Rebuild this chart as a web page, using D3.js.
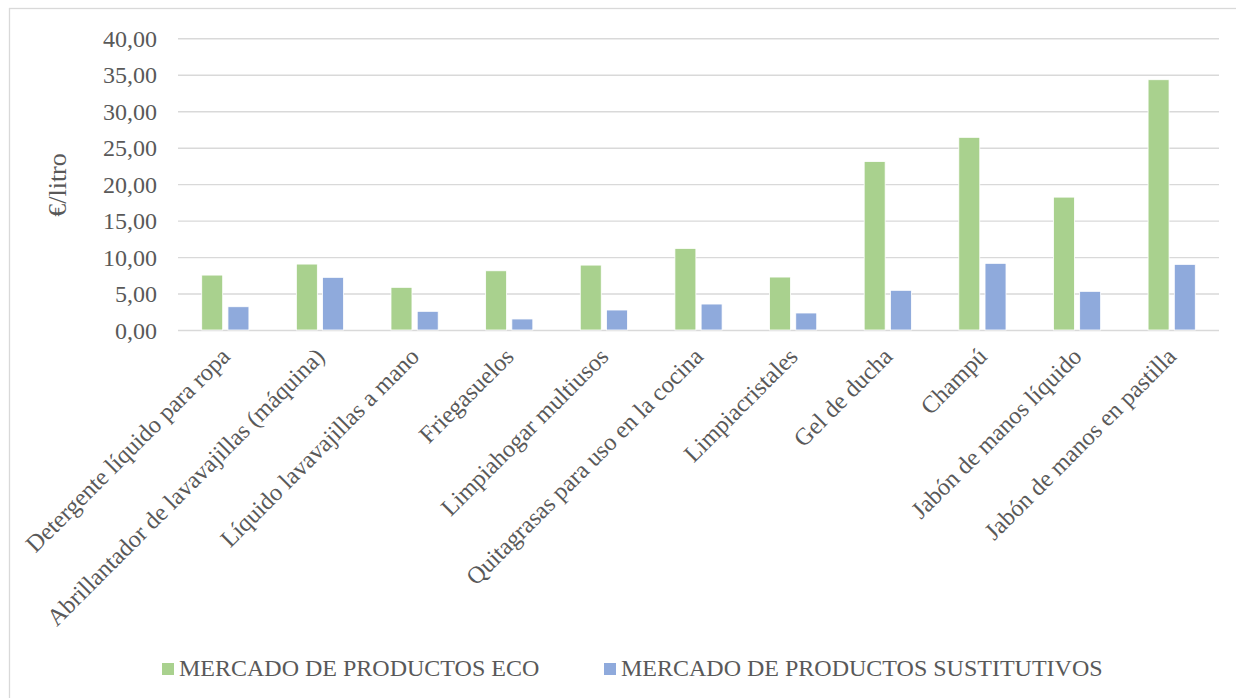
<!DOCTYPE html>
<html>
<head>
<meta charset="utf-8">
<script src="https://cdn.jsdelivr.net/npm/d3@7"></script>
<style>
  html, body { margin: 0; padding: 0; background: #fff; }
  svg { display: block; }
  text { font-family: "Liberation Serif", "Times New Roman", serif; fill: #595959; }
</style>
</head>
<body>
<svg id="chart" width="1236" height="698"></svg>
<script>
// Precio medio por litro: productos ecológicos frente a sustitutivos
const categories = [
  "Detergente líquido para ropa",
  "Abrillantador de lavavajillas (máquina)",
  "Líquido lavavajillas a mano",
  "Friegasuelos",
  "Limpiahogar multiusos",
  "Quitagrasas para uso en la cocina",
  "Limpiacristales",
  "Gel de ducha",
  "Champú",
  "Jabón de manos líquido",
  "Jabón de manos en pastilla"
];
const seriesNames = ["MERCADO DE PRODUCTOS ECO", "MERCADO DE PRODUCTOS SUSTITUTIVOS"];
const ecoValues = [7.53, 9.04, 5.85, 8.12, 8.90, 11.19, 7.26, 23.10, 26.42, 18.22, 34.32];
const sustitutivosValues = [3.19, 7.22, 2.56, 1.51, 2.74, 3.56, 2.33, 5.44, 9.14, 5.30, 9.00];
const yTicks = [0, 5, 10, 15, 20, 25, 30, 35, 40];
const colors = ["#a9d18e", "#8faadc"];

const svg = d3.select("#chart");
const W = 1236, H = 698;

// outer chart frame
svg.append("rect")
  .attr("x", 9.5).attr("y", 8.5)
  .attr("width", W + 20).attr("height", H + 20)
  .attr("fill", "#fff").attr("stroke", "#d9d9d9").attr("stroke-width", 1.3);

const plot = { left: 178, right: 1219, top: 38.3, bottom: 330 };

const x0 = d3.scaleBand().domain(categories).range([plot.left, plot.right]).padding(0);
const groupHalf = 23.6;
const x1 = d3.scaleBand().domain(seriesNames)
  .range([x0.bandwidth() / 2 - groupHalf, x0.bandwidth() / 2 + groupHalf])
  .paddingInner(0.2);
const y = d3.scaleLinear().domain([0, 40]).range([plot.bottom, plot.top]);

const fmt = v => d3.format(".2f")(v).replace(".", ",");

// horizontal gridlines
svg.append("g")
  .attr("transform", `translate(${plot.left},0)`)
  .call(d3.axisLeft(y).tickValues(yTicks).tickSize(-(plot.right - plot.left)).tickFormat(""))
  .call(g => g.select(".domain").remove())
  .call(g => g.selectAll("line").attr("stroke", "#d9d9d9").attr("stroke-width", 1.4));

// y tick labels
svg.append("g")
  .attr("transform", `translate(${plot.left - 21},0)`)
  .call(d3.axisLeft(y).tickValues(yTicks).tickSize(0).tickPadding(0).tickFormat(fmt))
  .call(g => g.select(".domain").remove())
  .call(g => g.selectAll("text")
    .attr("font-family", "Liberation Serif")
    .attr("font-size", 24)
    .attr("fill", "#595959")
    .attr("dy", "0.34em"));

// bars
const rows = categories.map((c, i) => ({ cat: c, vals: [ecoValues[i], sustitutivosValues[i]] }));
const groups = svg.append("g").selectAll("g").data(rows).join("g")
  .attr("transform", d => `translate(${x0(d.cat)},0)`);
groups.selectAll("rect")
  .data(d => d.vals.map((v, k) => ({ s: seriesNames[k], v, k })))
  .join("rect")
  .attr("x", d => x1(d.s))
  .attr("width", x1.bandwidth())
  .attr("y", d => y(d.v))
  .attr("height", d => y(0) - y(d.v))
  .attr("fill", d => colors[d.k])
  .attr("stroke", "#ffffff")
  .attr("stroke-width", 0.8);

// category labels, rotated 45°
svg.append("g")
  .attr("transform", `translate(0,${plot.bottom})`)
  .call(d3.axisBottom(x0).tickSize(0).tickPadding(0))
  .call(g => g.select(".domain").remove())
  .call(g => g.selectAll(".tick text")
    .attr("font-family", "Liberation Serif")
    .attr("font-size", 24.2)
    .attr("fill", "#595959")
    .attr("text-anchor", "end")
    .attr("y", 0).attr("dy", 0)
    .attr("transform", "translate(6,28) rotate(-45)"));

// y axis title
svg.append("text")
  .attr("transform", "translate(66,185) rotate(-90)")
  .attr("text-anchor", "middle")
  .attr("font-size", 26)
  .text("€/litro");

// legend
const legendItems = [
  { name: seriesNames[0], color: colors[0], x: 162 },
  { name: seriesNames[1], color: colors[1], x: 604 }
];
const lg = svg.append("g").selectAll("g").data(legendItems).join("g")
  .attr("transform", d => `translate(${d.x},663)`);
lg.append("rect").attr("width", 12).attr("height", 12).attr("fill", d => d.color);
lg.append("text").attr("x", 17).attr("y", 13).attr("font-size", 24).text(d => d.name);
</script>
</body>
</html>
